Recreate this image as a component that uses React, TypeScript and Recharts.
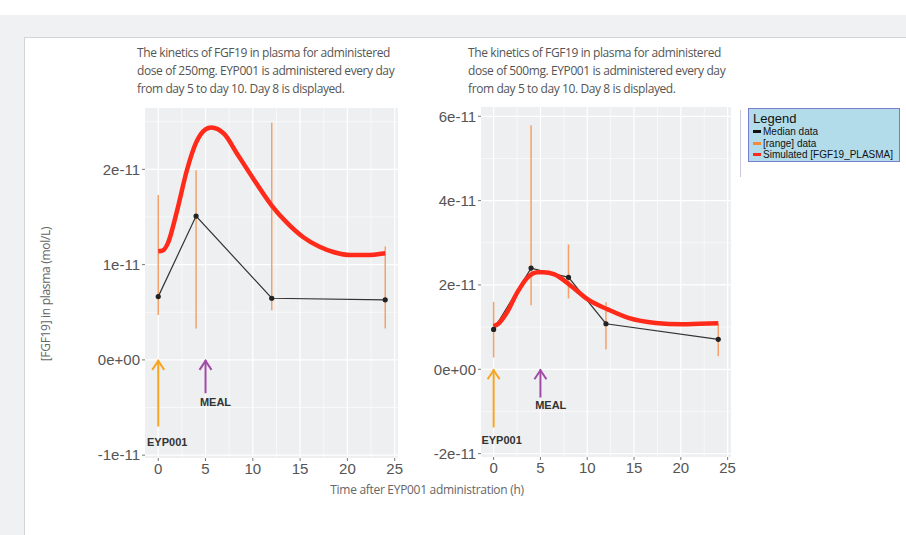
import React from "react";
import {
  ComposedChart,
  Line,
  XAxis,
  YAxis,
  CartesianGrid,
  ReferenceLine,
  ReferenceDot,
} from "recharts";

// ---- left panel (250 mg) ----
const leftMedian = [
  { t: 0, v: 0.664e-11 },
  { t: 4, v: 1.51e-11 },
  { t: 12, v: 0.647e-11 },
  { t: 24, v: 0.63e-11 },
];
const leftRange = [
  { t: 0, low: 0.47e-11, high: 1.73e-11 },
  { t: 4, low: 0.33e-11, high: 1.99e-11 },
  { t: 12, low: 0.52e-11, high: 2.49e-11 },
  { t: 24, low: 0.33e-11, high: 1.19e-11 },
];
const leftSim = [
  { t: 0, v: 1.14e-11 },
  { t: 0.5, v: 1.15e-11 },
  { t: 1, v: 1.22e-11 },
  { t: 2, v: 1.57e-11 },
  { t: 3, v: 1.98e-11 },
  { t: 4, v: 2.28e-11 },
  { t: 5, v: 2.42e-11 },
  { t: 5.6, v: 2.44e-11 },
  { t: 7, v: 2.37e-11 },
  { t: 8.3, v: 2.17e-11 },
  { t: 10, v: 1.91e-11 },
  { t: 12, v: 1.62e-11 },
  { t: 13.6, v: 1.44e-11 },
  { t: 15.3, v: 1.29e-11 },
  { t: 17, v: 1.19e-11 },
  { t: 18.6, v: 1.13e-11 },
  { t: 20.3, v: 1.1e-11 },
  { t: 22, v: 1.1e-11 },
  { t: 24, v: 1.12e-11 },
];
const leftArrows = [
  { t: 0, from: -0.7e-11, label: "EYP001", labelT: 0.95, labelY: -0.86e-11, color: "#f6a623" },
  { t: 5, from: -0.35e-11, label: "MEAL", labelT: 6.05, labelY: -0.44e-11, color: "#a24aa8" },
];
const leftYTicks = [-1e-11, 0, 1e-11, 2e-11];
const leftYMinor = [-0.5e-11, 0.5e-11, 1.5e-11, 2.5e-11];

// ---- right panel (500 mg) ----
const rightMedian = [
  { t: 0, v: 0.945e-11 },
  { t: 4, v: 2.4e-11 },
  { t: 8, v: 2.18e-11 },
  { t: 12, v: 1.08e-11 },
  { t: 24, v: 0.71e-11 },
];
const rightRange = [
  { t: 0, low: 0.28e-11, high: 1.6e-11 },
  { t: 4, low: 1.52e-11, high: 5.79e-11 },
  { t: 8, low: 1.68e-11, high: 2.96e-11 },
  { t: 12, low: 0.47e-11, high: 1.59e-11 },
  { t: 24, low: 0.31e-11, high: 1.09e-11 },
];
const rightSim = [
  { t: 0, v: 1.02e-11 },
  { t: 0.5, v: 1.08e-11 },
  { t: 1.4, v: 1.34e-11 },
  { t: 2.5, v: 1.81e-11 },
  { t: 3.6, v: 2.17e-11 },
  { t: 4.7, v: 2.3e-11 },
  { t: 5.3, v: 2.3e-11 },
  { t: 6.5, v: 2.25e-11 },
  { t: 8.3, v: 1.97e-11 },
  { t: 10.1, v: 1.65e-11 },
  { t: 12.2, v: 1.42e-11 },
  { t: 14.4, v: 1.22e-11 },
  { t: 17.3, v: 1.1e-11 },
  { t: 20.1, v: 1.07e-11 },
  { t: 22, v: 1.08e-11 },
  { t: 24, v: 1.09e-11 },
];
const rightArrows = [
  { t: 0, from: -1.38e-11, label: "EYP001", labelT: 0.85, labelY: -1.69e-11, color: "#f6a623" },
  { t: 5, from: -0.67e-11, label: "MEAL", labelT: 6.1, labelY: -0.85e-11, color: "#a24aa8" },
];
const rightYTicks = [-2e-11, 0, 2e-11, 4e-11, 6e-11];
const rightYMinor = [-1e-11, 1e-11, 3e-11, 5e-11];

const xTicks = [0, 5, 10, 15, 20, 25];
const xMinor = [2.5, 7.5, 12.5, 17.5, 22.5];

const titles = [
  "The kinetics of FGF19 in plasma for administered dose of 250mg. EYP001 is administered every day from day 5 to day 10. Day 8 is displayed.",
  "The kinetics of FGF19 in plasma for administered dose of 500mg. EYP001 is administered every day from day 5 to day 10. Day 8 is displayed.",
];
const legendItems = [
  { name: "Median data", color: "#111111" },
  { name: "[range] data", color: "#f08a3c" },
  { name: "Simulated [FGF19_PLASMA]", color: "#ff2a1a" },
];

const RANGE = "#f3a26b";
const SIM = "#ff2a1a";
const MED = "#333333";
const tickStyle = { fill: "#555555", fontSize: 15, fontFamily: "Liberation Sans, Arial, sans-serif" };
const labelFont = "'Open Sans', 'Noto Sans', sans-serif";

const fmtY = (v: number) => (Math.abs(v) < 1e-20 ? "0e+00" : `${Math.round(v / 1e-11)}e-11`);

const arrowShape = (color: string) => (props: any) => {
  const { x1, y1, x2, y2 } = props;
  return (
    <g>
      <line x1={x1} y1={y1} x2={x2} y2={y2} stroke={color} strokeWidth={2} />
      <polyline
        points={`${x2 - 6},${y2 + 10} ${x2},${y2 + 1} ${x2 + 6},${y2 + 10}`}
        fill="none"
        stroke={color}
        strokeWidth={2}
      />
    </g>
  );
};

interface PanelProps {
  median: { t: number; v: number }[];
  range: { t: number; low: number; high: number }[];
  sim: { t: number; v: number }[];
  arrows: typeof leftArrows;
  yTicks: number[];
  yMinor: number[];
  xDomain: [number, number];
  yDomain: [number, number];
  width: number;
  left: number;
  top: number;
}

const Panel: React.FC<PanelProps> = ({
  median,
  range,
  sim,
  arrows,
  yTicks,
  yMinor,
  xDomain,
  yDomain,
  width,
  left,
  top,
}) => (
  <div style={{ position: "absolute", left, top }}>
    <ComposedChart width={width} height={390} margin={{ top: 8, right: 12, left: 0, bottom: 0 }}>
      <CartesianGrid fill="#eeeff0" stroke="#ffffff" strokeWidth={1.2} horizontalValues={yTicks} verticalValues={xTicks} />
      <XAxis
        type="number"
        dataKey="t"
        domain={xDomain}
        allowDataOverflow
        ticks={xTicks}
        axisLine={false}
        tickLine={{ stroke: "#777" }}
        tickSize={3}
        tick={tickStyle}
        height={32}
      />
      <YAxis
        type="number"
        domain={yDomain}
        allowDataOverflow
        ticks={yTicks}
        tickFormatter={fmtY}
        axisLine={false}
        tickLine={{ stroke: "#777" }}
        tickSize={3}
        tick={tickStyle}
        width={65}
      />
      {yMinor.map((y) => (
        <ReferenceLine key={`ym${y}`} y={y} stroke="#ffffff" strokeWidth={0.6} />
      ))}
      {xMinor.map((x) => (
        <ReferenceLine key={`xm${x}`} x={x} stroke="#ffffff" strokeWidth={0.6} />
      ))}
      {range.map((r) => (
        <ReferenceLine
          key={`r${r.t}`}
          segment={[
            { x: r.t, y: r.low },
            { x: r.t, y: r.high },
          ]}
          stroke={RANGE}
          strokeWidth={1.5}
        />
      ))}
      {arrows.map((a) => (
        <ReferenceLine
          key={`a${a.t}`}
          segment={[
            { x: a.t, y: a.from },
            { x: a.t, y: 0 },
          ]}
          shape={arrowShape(a.color)}
        />
      ))}
      {arrows.map((a) => (
        <ReferenceDot
          key={`l${a.t}`}
          x={a.labelT}
          y={a.labelY}
          r={0}
          fill="none"
          stroke="none"
          label={{
            value: a.label,
            position: "center",
            fill: "#333",
            fontSize: 11,
            fontWeight: "bold",
            fontFamily: "Liberation Sans, Arial, sans-serif",
          }}
        />
      ))}
      <Line
        data={median}
        dataKey="v"
        type="linear"
        stroke={MED}
        strokeWidth={1.2}
        dot={{ r: 2, fill: "#222", stroke: "#222" }}
        isAnimationActive={false}
      />
      <Line
        data={sim}
        dataKey="v"
        type="monotone"
        stroke={SIM}
        strokeWidth={4.5}
        dot={false}
        isAnimationActive={false}
      />
    </ComposedChart>
  </div>
);

const Title: React.FC<{ text: string; left: number }> = ({ text, left }) => (
  <div
    style={{
      position: "absolute",
      left,
      top: 44,
      width: 270,
      fontFamily: labelFont,
      fontSize: 12,
      lineHeight: "18px",
      color: "#555",
      letterSpacing: -0.4,
    }}
  >
    {text}
  </div>
);

export default function App() {
  return (
    <div style={{ position: "absolute", left: 0, top: 0, width: 906, height: 535, background: "#ffffff", overflow: "hidden" }}>
      <div style={{ position: "absolute", left: 0, top: 15, width: 906, height: 520, background: "#f0f1f2" }} />
      <div
        style={{
          position: "absolute",
          left: 24,
          top: 37,
          width: 900,
          height: 520,
          background: "#ffffff",
          borderTop: "1px solid #d4d4d4",
          borderLeft: "1px solid #d4d4d4",
        }}
      />
      <Title text={titles[0]} left={137} />
      <Title text={titles[1]} left={468} />
      <Panel
        median={leftMedian}
        range={leftRange}
        sim={leftSim}
        arrows={leftArrows}
        yTicks={leftYTicks}
        yMinor={leftYMinor}
        xDomain={[-1.4, 25.35]}
        yDomain={[-1.03e-11, 2.644e-11]}
        width={330}
        left={80}
        top={100}
      />
      <Panel
        median={rightMedian}
        range={rightRange}
        sim={rightSim}
        arrows={rightArrows}
        yTicks={rightYTicks}
        yMinor={rightYMinor}
        xDomain={[-1.35, 25.36]}
        yDomain={[-2.08e-11, 6.22e-11]}
        width={327}
        left={416}
        top={99}
      />
      <div
        style={{
          position: "absolute",
          left: 45,
          top: 294,
          transform: "translate(-50%, -50%) rotate(-90deg)",
          whiteSpace: "nowrap",
          fontFamily: labelFont,
          fontSize: 12,
          color: "#666",
          letterSpacing: -0.3,
        }}
      >
        [FGF19] in plasma (mol/L)
      </div>
      <div
        style={{
          position: "absolute",
          left: 427,
          top: 489,
          transform: "translate(-50%, -50%)",
          whiteSpace: "nowrap",
          fontFamily: labelFont,
          fontSize: 12,
          color: "#666",
          letterSpacing: -0.3,
        }}
      >
        Time after EYP001 administration (h)
      </div>
      <div style={{ position: "absolute", left: 740, top: 110, width: 1, height: 67, background: "#c8c8e0" }} />
      <div
        style={{
          position: "absolute",
          left: 748,
          top: 108,
          width: 152,
          height: 54,
          background: "#b3dcea",
          border: "1px solid #7b7bd0",
          fontFamily: "Liberation Sans, Arial, sans-serif",
          color: "#111",
          padding: "2px 0 0 4px",
          boxSizing: "border-box",
          whiteSpace: "nowrap",
        }}
      >
        <div style={{ fontSize: 13, lineHeight: "15px" }}>Legend</div>
        {legendItems.map((it) => (
          <div key={it.name} style={{ display: "flex", alignItems: "center", fontSize: 10, lineHeight: "11.5px" }}>
            <span style={{ display: "inline-block", width: 8, height: 3, background: it.color, marginRight: 2, flexShrink: 0 }} />
            {it.name}
          </div>
        ))}
      </div>
    </div>
  );
}
